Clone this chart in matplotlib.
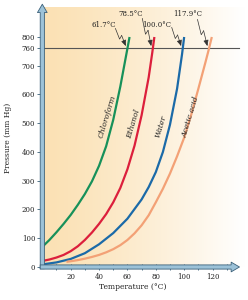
# Vapor pressure vs temperature for four liquids, with normal
# boiling points marked where each curve crosses 760 mm Hg.

import numpy as np
import matplotlib as mpl
import matplotlib.pyplot as plt

mpl.rcParams['font.family'] = 'DejaVu Serif'

# data (temperature in C, pressure in mm Hg)
chloroform_t = [0, 5, 10, 15, 20, 25, 30, 35, 40, 45, 50, 55, 60, 61.5]
chloroform_p = [70, 94, 121, 150, 181, 216, 254, 298, 352, 420, 512, 628, 760, 800]

ethanol_t = [0, 5, 10, 15, 20, 25, 30, 35, 40, 45, 50, 55, 60, 65, 70, 75, 77.5, 79]
ethanol_p = [21, 26, 33, 42, 55, 72, 94, 120, 150, 184, 225, 275, 340, 422, 528, 660, 745, 800]

water_t = [0, 10, 20, 30, 40, 50, 60, 70, 75, 80, 85, 90, 95, 98.5, 100]
water_p = [9, 16, 28, 48, 79, 118, 168, 235, 278, 330, 400, 495, 620, 740, 800]

acetic_t = [17, 20, 25, 30, 35, 40, 45, 50, 55, 60, 65, 70, 75, 80, 85, 90,
            95, 100, 105, 110, 115, 117, 119.5]
acetic_p = [18, 20, 24, 29, 35, 42, 51, 62, 76, 94, 117, 145, 180, 225, 272, 325,
            385, 450, 530, 620, 712, 750, 800]

names = ['Chloroform', 'Ethanol', 'Water', 'Acetic acid']
boiling_labels = ['61.7°C', '78.5°C', '100.0°C', '117.9°C']
y_ticks = [0, 100, 200, 300, 400, 500, 600, 700, 760, 800]
x_ticks = [10, 20, 30, 40, 50, 60, 70, 80, 90, 100, 110, 120, 130]

# styles
COLORS = ['#17915a', '#dc1f3c', '#1b6aa8', '#f3a176']
AXIS_FILL = '#9cc2d8'
AXIS_EDGE = '#3b6079'
LINE_760 = '#555555'
TEXT_COLOR = '#222222'

# label placement (curve labels in data units, boiling labels in pixels)
name_pos = [(46, 525), (64.5, 497), (83.7, 490), (105, 522)]
bp_text_off = [(-24, 23), (-22, 34), (-26, 23), (-21, 34)]
bp_arrow_start = [(-12, 20), (-10.5, 30), (-11, 21), (-11.5, 29)]

fig = plt.figure(figsize=(2.48, 3.0), dpi=100)
ax = fig.add_axes([0.1706, 0.11, 0.8294, 0.8817])
ax.set_xlim(0, 145)
ax.set_ylim(0, 920)
for s in ax.spines.values():
    s.set_visible(False)

# peach to white background
grad = np.linspace(0, 1, 256) ** 1.3
left = np.array([251, 225, 180]) / 255.0
img = left[None, :] * (1 - grad[:, None]) + grad[:, None]
ax.imshow(img[None, :, :], extent=(0, 143, 0, 904), aspect='auto',
          zorder=0, interpolation='bilinear')

# 760 mm Hg reference line
ax.plot([0, 139], [760, 760], color=LINE_760, lw=0.8, zorder=2)

all_t = [chloroform_t, ethanol_t, water_t, acetic_t]
all_p = [chloroform_p, ethanol_p, water_p, acetic_p]
for t, p, c in zip(all_t, all_p, COLORS):
    ax.plot(t, p, color=c, lw=1.6, solid_capstyle='butt',
            solid_joinstyle='round', zorder=3)

for (x, y), name in zip(name_pos, names):
    ax.text(x, y, name, rotation=73, style='italic', fontsize=5.5,
            ha='center', va='center', color=TEXT_COLOR, zorder=4)

# pixel -> data scale
px_t = ax.bbox.width / 145.0
px_p = ax.bbox.height / 920.0

for t, p, lab, toff, aoff in zip(all_t, all_p, boiling_labels,
                                  bp_text_off, bp_arrow_start):
    tc = np.interp(760, p, t)
    ax.annotate(lab, xy=(tc, 760), xytext=toff, textcoords='offset pixels',
                ha='center', va='center', fontsize=5, color=TEXT_COLOR)
    # lightning-style zigzag pointer
    s = np.array(aoff, float)
    e = np.array([-1.6, 2.4])
    d = e - s
    n = np.array([d[1], -d[0]]) / np.hypot(*d)
    a = s + 0.55 * d + 1.8 * n
    b = s + 0.45 * d - 1.8 * n
    pts = np.array([s, a, b])
    ax.plot(tc + pts[:, 0] / px_t, 760 + pts[:, 1] / px_p,
            color='#333333', lw=0.5, zorder=5)
    ax.annotate('', xy=(tc + e[0] / px_t, 760 + e[1] / px_p),
                xytext=(tc + b[0] / px_t, 760 + b[1] / px_p),
                arrowprops=dict(arrowstyle='-|>,head_length=0.35,head_width=0.15',
                                color='#333333', lw=0.5, shrinkA=0, shrinkB=0,
                                mutation_scale=10), zorder=5)

# 3-d looking axis arrows
arrow_style = 'simple,head_length=0.6,head_width=0.7,tail_width=0.3'
ax.annotate('', xy=(0, 914), xytext=(0, -6), annotation_clip=False,
            arrowprops=dict(arrowstyle=arrow_style, fc=AXIS_FILL, ec=AXIS_EDGE,
                            lw=0.6, shrinkA=0, shrinkB=0, mutation_scale=10),
            zorder=6)
ax.annotate('', xy=(139, 0), xytext=(-1.5, 0), annotation_clip=False,
            arrowprops=dict(arrowstyle=arrow_style, fc=AXIS_FILL, ec=AXIS_EDGE,
                            lw=0.6, shrinkA=0, shrinkB=0, mutation_scale=10),
            zorder=6)

ax.set_yticks(y_ticks)
ax.set_yticklabels([str(v) for v in y_ticks])
ax.set_xticks(x_ticks)
ax.set_xticklabels([str(v) if v % 20 == 0 else '' for v in x_ticks])
ax.tick_params(axis='both', labelsize=5, colors=AXIS_EDGE, labelcolor=TEXT_COLOR,
               length=3.5, width=0.6, pad=1.5)
ax.tick_params(axis='x', direction='inout', length=5, pad=2)

fig.text(8 / 248, 1 - 137.5 / 300, 'Pressure (mm Hg)', rotation=90,
         ha='center', va='center', fontsize=5.5, color=TEXT_COLOR)
fig.text(132.5 / 248, 1 - 287 / 300, 'Temperature (°C)',
         ha='center', va='center', fontsize=5.5, color=TEXT_COLOR)

fig.savefig('out.png', dpi=100)
